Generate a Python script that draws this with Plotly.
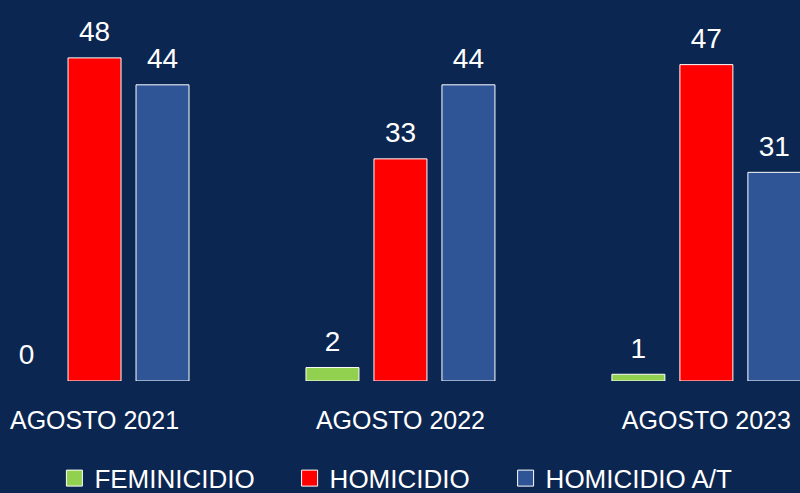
import plotly.graph_objects as go

BG = '#0b2650'

categories = ['AGOSTO 2021', 'AGOSTO 2022', 'AGOSTO 2023']
feminicidio = [0, 2, 1]
homicidio = [48, 33, 47]
homicidio_at = [44, 44, 31]

series = [
    ('FEMINICIDIO', feminicidio, '#92d050', 'legend', 0.068),
    ('HOMICIDIO', homicidio, '#ff0000', 'legend2', 0.362),
    ('HOMICIDIO A/T', homicidio_at, '#2f5597', 'legend3', 0.632),
]

fig = go.Figure()
for name, vals, color, leg, _ in series:
    fig.add_trace(go.Bar(
        name=name, x=categories, y=vals,
        marker=dict(color=color, line=dict(color='white', width=[1 if v else 0 for v in vals])),
        showlegend=False, offsetgroup=name,
    ))
# value labels, pushed a bit above the bars
for name, vals, color, leg, _ in series:
    fig.add_trace(go.Scatter(
        x=categories, y=vals, mode='markers+text', text=vals,
        textposition='top center', showlegend=False, hoverinfo='skip',
        marker=dict(size=14, opacity=0), cliponaxis=False, offsetgroup=name,
        textfont=dict(color='white', size=28, family='Liberation Sans'),
    ))
# legend entries (kept on a spare axis so they do not join the groups)
for name, vals, color, leg, _ in series:
    fig.add_trace(go.Scatter(
        x=[None], y=[None], mode='markers', name=name, legend=leg,
        xaxis='x2', yaxis='y2',
        marker=dict(symbol='square', size=16, color=color, line=dict(color='white', width=1)),
    ))

legend_style = dict(orientation='h', yref='container', yanchor='middle', y=0.03, xanchor='left',
                    font=dict(color='white', size=26, family='Liberation Sans'),
                    bgcolor='rgba(0,0,0,0)')

fig.update_layout(
    width=800, height=493, showlegend=True,
    paper_bgcolor=BG, plot_bgcolor=BG,
    margin=dict(l=0, r=0, t=0, b=112),
    barmode='group', bargap=0.3333, bargroupgap=0.2206,
    scattermode='group', scattergap=0.3333,
    legend=dict(x=series[0][4], **legend_style),
    legend2=dict(x=series[1][4], **legend_style),
    legend3=dict(x=series[2][4], **legend_style),
    xaxis2=dict(overlaying='x', visible=False),
    yaxis2=dict(overlaying='y', visible=False),
)
fig.update_xaxes(range=[-0.309, 2.306], showgrid=False, zeroline=False, showline=False,
                 ticks='outside', ticklen=17, tickcolor=BG,
                 tickfont=dict(color='white', size=25, family='Liberation Sans'),
                 selector=dict(overlaying=None))
fig.update_yaxes(range=[0, 56.6], visible=False)

fig.write_html('out.html', config={'displayModeBar': False},
               post_script="document.body.style.margin='0';")
